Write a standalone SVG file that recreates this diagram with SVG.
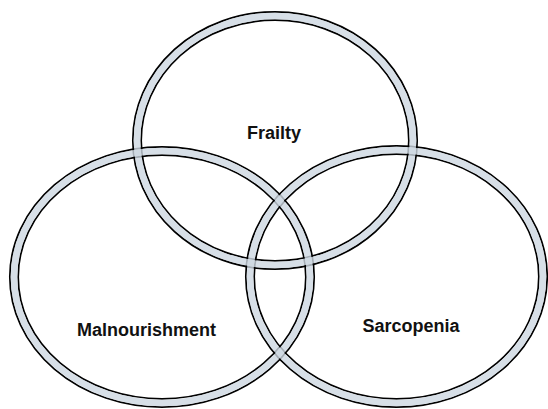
<svg xmlns="http://www.w3.org/2000/svg" width="548" height="409" viewBox="0 0 548 409">
<style>
.edge{fill:none;stroke:#000;stroke-width:1.7}
.band{fill:none;stroke:#cdd7e1;stroke-width:6.6;stroke-opacity:0.8}
.lbl{font-family:"Liberation Sans",Arial,sans-serif;font-weight:bold;font-size:18px;fill:#111;text-anchor:middle}
</style>
<rect width="548" height="409" fill="#fff"/>
<g id="connectors"/>
<g id="frailty">
<ellipse class="edge" cx="275" cy="140.5" rx="142.2" ry="128.7"/>
<ellipse class="edge" cx="275" cy="140.5" rx="133.8" ry="120.3"/>
</g>
<g id="malnourishment">
<ellipse class="edge" cx="162" cy="277" rx="152.2" ry="130.2"/>
<ellipse class="edge" cx="162" cy="277" rx="143.8" ry="121.8"/>
</g>
<g id="sarcopenia">
<ellipse class="edge" cx="396.5" cy="276.5" rx="150.7" ry="130.7"/>
<ellipse class="edge" cx="396.5" cy="276.5" rx="142.3" ry="122.3"/>
</g>
<g id="bands">
<ellipse class="band" cx="275" cy="140.5" rx="138" ry="124.5"/>
<ellipse class="band" cx="162" cy="277" rx="148" ry="126"/>
<ellipse class="band" cx="396.5" cy="276.5" rx="146.5" ry="126.5"/>
</g>
<g id="labels">
<text class="lbl" x="274" y="139">Frailty</text>
<text class="lbl" x="146.5" y="336">Malnourishment</text>
<text class="lbl" x="411" y="332">Sarcopenia</text>
</g>
</svg>
